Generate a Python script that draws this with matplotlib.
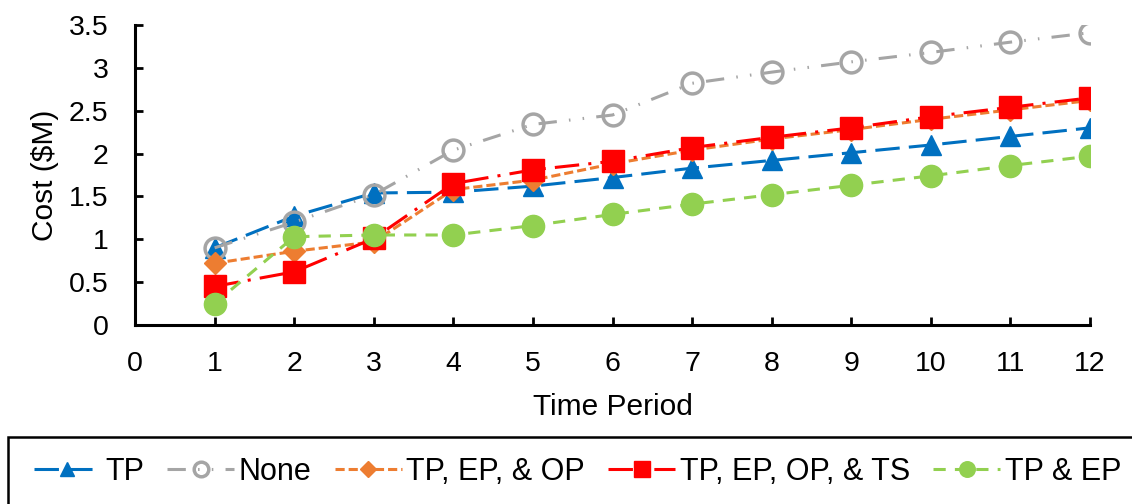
import matplotlib
matplotlib.use("Agg")
import matplotlib.pyplot as plt
from matplotlib.patches import Rectangle

plt.rcParams['font.family'] = ['Liberation Sans', 'DejaVu Sans']

# cost per time period for each protection strategy
periods = [1, 2, 3, 4, 5, 6, 7, 8, 9, 10, 11, 12]
tp = [0.90, 1.27, 1.54, 1.55, 1.62, 1.72, 1.83, 1.92, 2.01, 2.10, 2.20, 2.30]
none = [0.90, 1.20, 1.52, 2.04, 2.34, 2.45, 2.82, 2.95, 3.07, 3.18, 3.30, 3.41]
tp_ep_op = [0.72, 0.86, 0.97, 1.58, 1.69, 1.88, 2.04, 2.17, 2.28, 2.40, 2.51, 2.62]
tp_ep_op_ts = [0.45, 0.62, 1.01, 1.65, 1.81, 1.91, 2.07, 2.19, 2.30, 2.43, 2.54, 2.65]
tp_ep = [0.25, 1.03, 1.05, 1.05, 1.16, 1.29, 1.41, 1.52, 1.63, 1.74, 1.86, 1.97]

labels = ['TP', 'None', 'TP, EP, & OP', 'TP, EP, OP, & TS', 'TP & EP']

fig = plt.figure(figsize=(11.32, 5.04), dpi=100)
ax = fig.add_axes([0.1193, 0.3552, 0.8436, 0.5952])

lw = 2.2
ax.plot(periods, tp, color='#0070C0', lw=lw, dashes=(8, 3),
        marker='^', ms=14, label=labels[0])
ax.plot(periods, none, color='#A5A5A5', lw=lw, dashes=(6, 4, 0.5, 4, 0.5, 4),
        marker='o', ms=15, mfc='none', mew=2.5, label=labels[1])
ax.plot(periods, tp_ep_op, color='#ED7D31', lw=lw, dashes=(3, 1.3),
        marker='D', ms=11, label=labels[2])
ax.plot(periods, tp_ep_op_ts, color='#FF0000', lw=lw, dashes=(8, 3, 1, 3),
        marker='s', ms=16, label=labels[3])
ax.plot(periods, tp_ep, color='#92D050', lw=lw, dashes=(4, 3),
        marker='o', ms=16, label=labels[4])

ax.set_xlim(0, 12)
ax.set_ylim(0, 3.5)
ax.set_xticks(range(0, 13))
ax.set_yticks([0, 0.5, 1, 1.5, 2, 2.5, 3, 3.5])
ax.set_yticklabels(['0', '0.5', '1', '1.5', '2', '2.5', '3', '3.5'])
ax.tick_params(direction='in', length=6, width=2, labelsize=20.5)
ax.tick_params(axis='x', pad=19)
ax.tick_params(axis='y', pad=19)
for s in ['top', 'right']:
    ax.spines[s].set_visible(False)
for s in ['left', 'bottom']:
    ax.spines[s].set_linewidth(2.2)
ax.set_xlabel('Time Period', fontsize=21.5, labelpad=11)
ax.set_ylabel('Cost ($M)', fontsize=21.5, labelpad=7)

# legend box running off the bottom of the figure
fig.patches.append(Rectangle((8 / 1132, -0.2), 1.1, 0.2 + 1 - 437 / 504,
                             transform=fig.transFigure, fill=False,
                             edgecolor='black', lw=1.8))
fig.legend(loc='center', bbox_to_anchor=(0.51, 1 - 472 / 504), ncol=5,
           frameon=False, fontsize=22, markerscale=0.7, handlelength=2.2,
           handletextpad=0.15, columnspacing=0.75)

fig.savefig('out.png', dpi=100)
